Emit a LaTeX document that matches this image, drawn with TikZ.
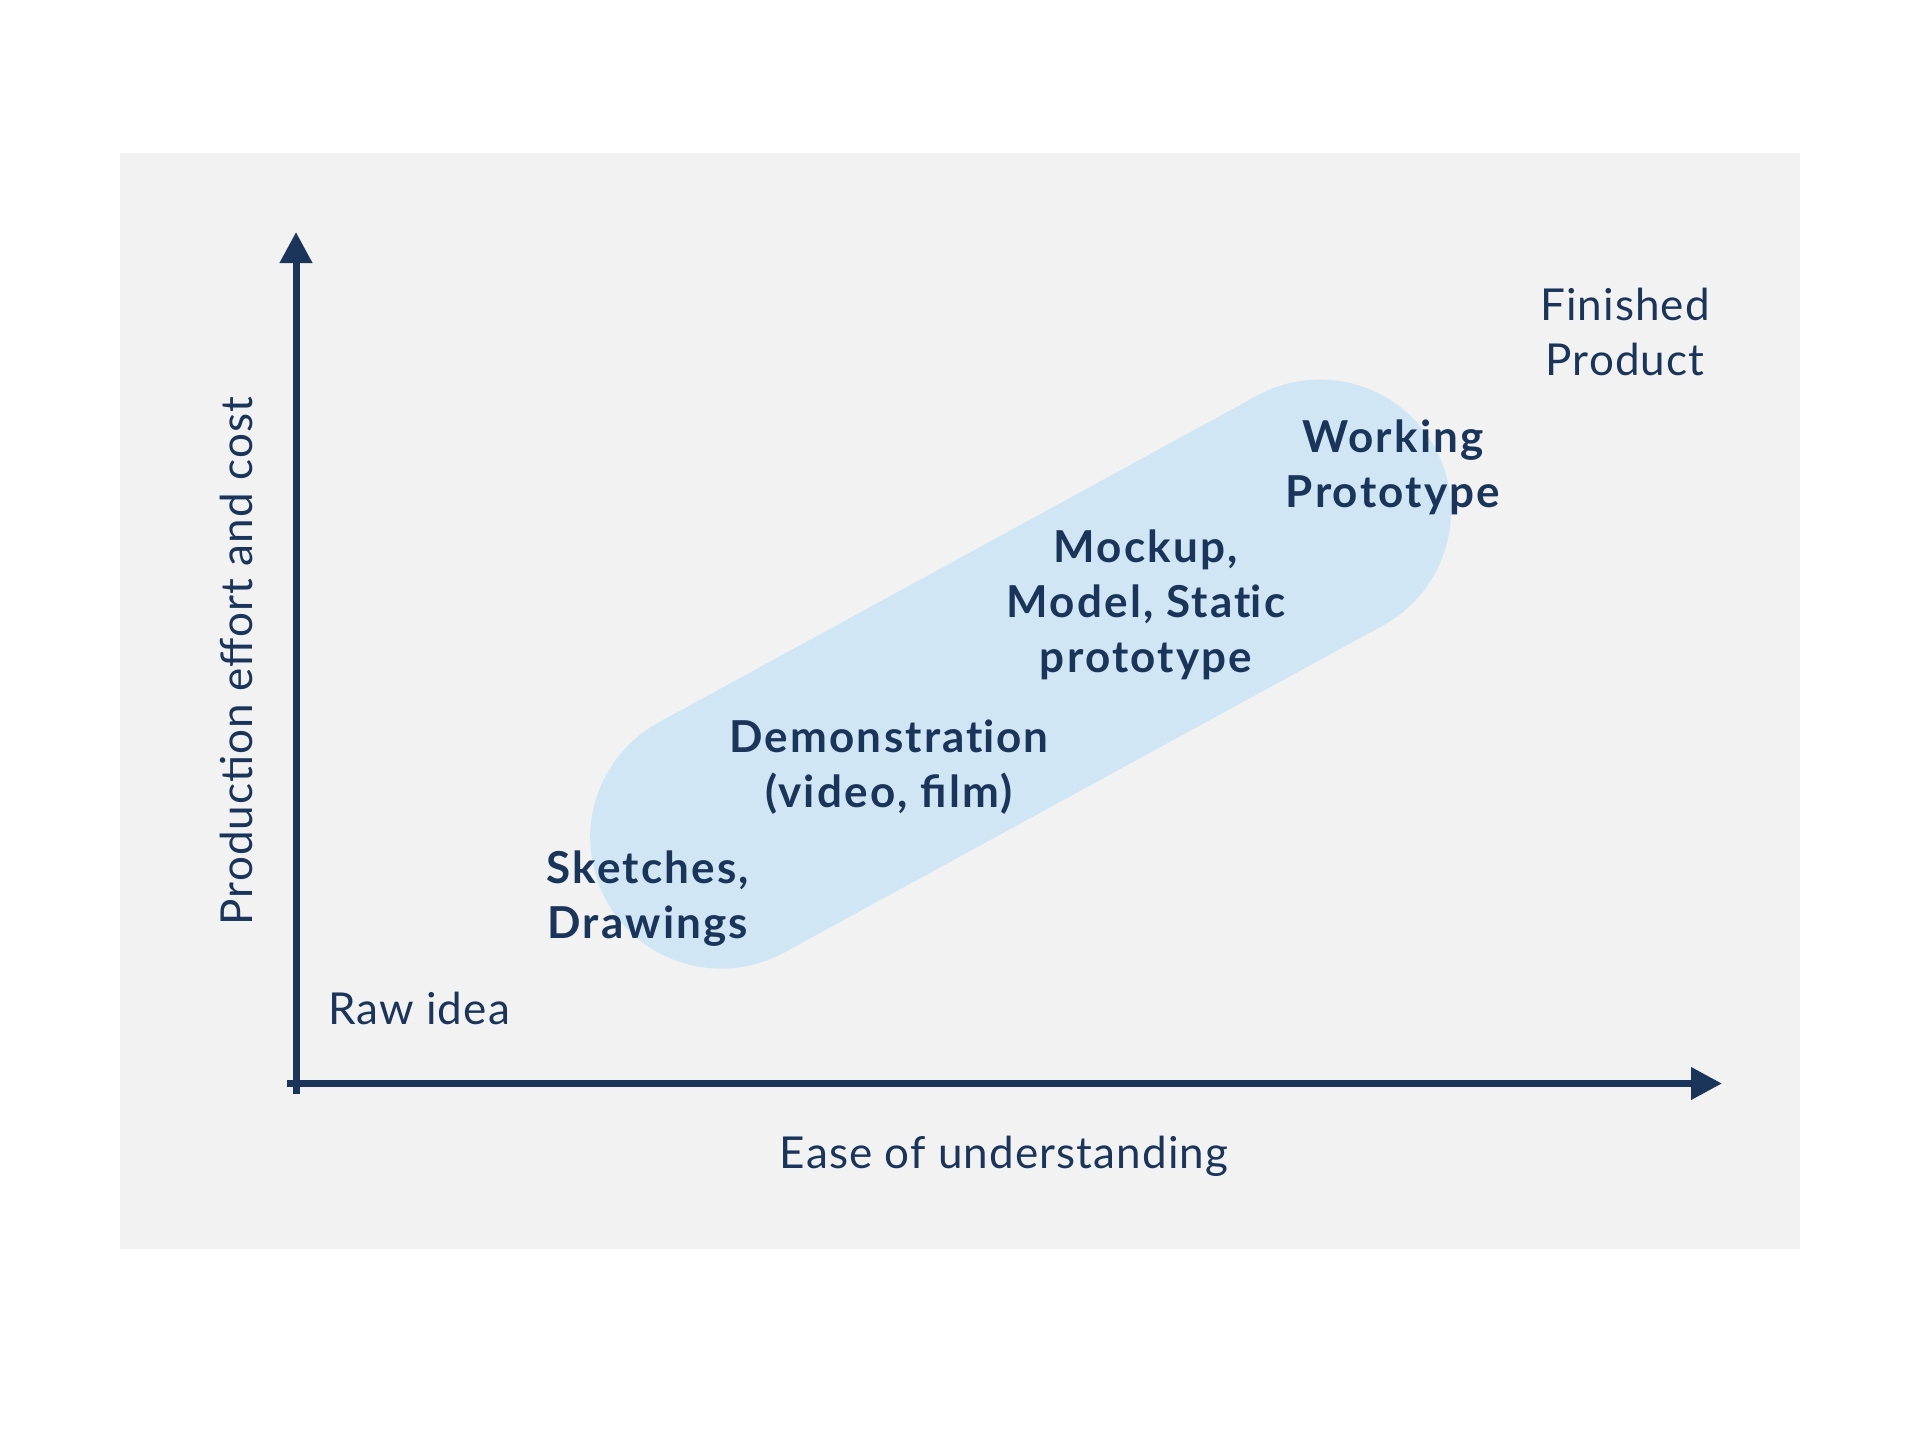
\documentclass[tikz,border=0pt]{standalone}
\usepackage{fontspec}
\setmainfont{Lato}
\newfontfamily\regfont{Lato}[LetterSpace=2.5]
\newfontfamily\boldfont{Lato Bold}[LetterSpace=5]
\usetikzlibrary{arrows.meta}
\definecolor{navy}{HTML}{1B355A}
\definecolor{panel}{HTML}{F2F2F2}
\definecolor{blob}{HTML}{D0E6F4}
\tikzset{
  lbl/.style={text=navy, align=center, inner sep=0pt, font=\fontsize{44}{55}\selectfont\regfont},
  blbl/.style={lbl, font=\fontsize{44}{55}\selectfont\boldfont},
  axis/.style={draw=navy, line width=7pt, -{Triangle[length=31pt,width=31pt]}}
}
\begin{document}
\begin{tikzpicture}[x=1pt,y=-1pt]
\useasboundingbox (0,0) rectangle (1920,1438);
\fill[panel] (120,153) rectangle (1800,1249);
% capsule
\fill[blob] (721.2,837.6) circle[radius=131];
\fill[blob] (1320,510.6) circle[radius=131];
\fill[blob] (658.4,722.6) -- (1257.2,395.6) -- (1382.8,625.6) -- (784,952.6) -- cycle;
% axes
\coordinate (ytop) at (296,232);
\coordinate (ybot) at (296,1094);
\coordinate (xleft) at (287,1083.5);
\coordinate (xright) at (1722,1083.5);
\draw[axis] (ybot) -- (ytop);
\draw[axis] (xleft) -- (xright);
% labels
\node[lbl] (fin) at (1625,332) {Finished\\Product};
\node[blbl] (work) at (1393,467) {Working\\Prototype};
\node[blbl] (mock) at (1146,605) {Mockup,\\Model, Stat\kern0pt ic\\prototype};
\node[blbl] (demo) at (889,767) {Demonstrat\kern0pt ion\\(video, film)};
\node[blbl] (sketch) at (648,899) {Sketches,\\Drawings};
\node[lbl, anchor=west] (raw) at (328,1008) {Raw idea};
\node[lbl] (ease) at (1004,1156) {Ease of understanding};
\node[lbl, rotate=90] (prod) at (236,661) {Production effort and cost};
\end{tikzpicture}
\end{document}
